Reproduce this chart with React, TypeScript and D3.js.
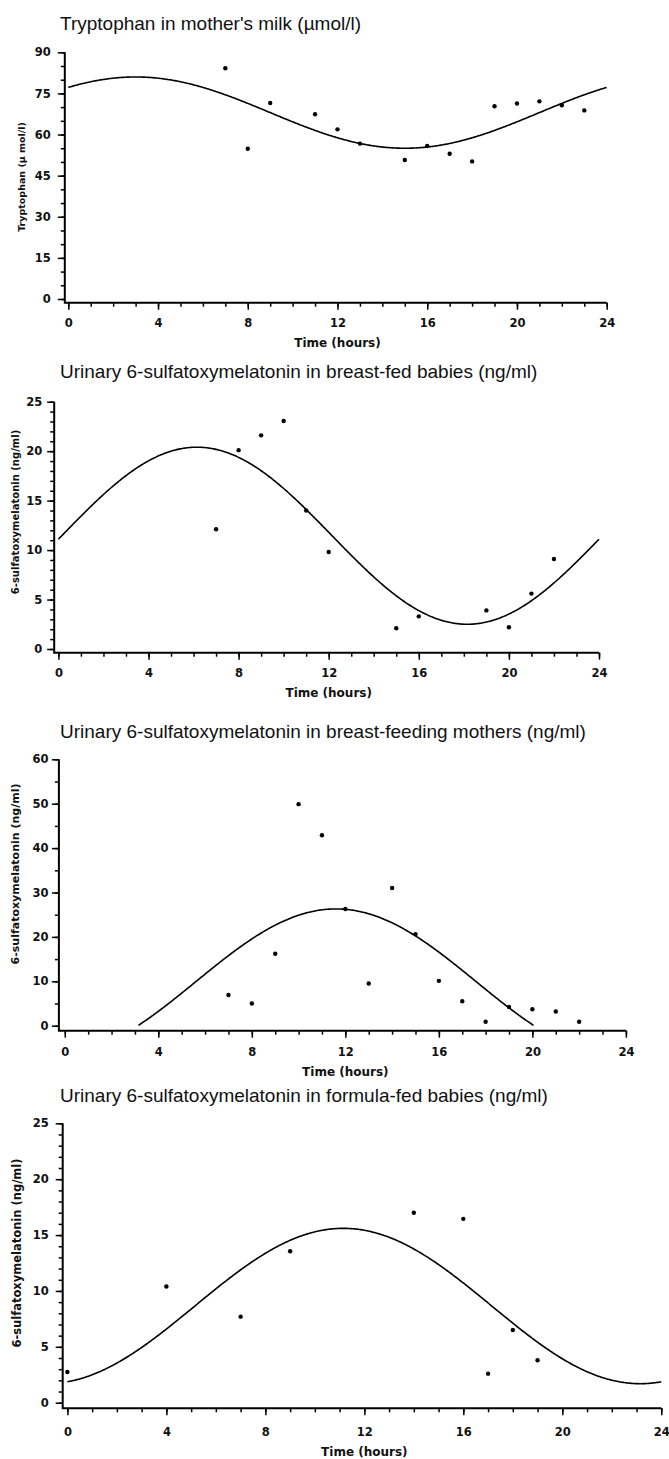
import React, { useEffect, useRef } from 'react';
import * as d3 from 'd3';

// Tryptophan in mother's milk (µmol/l)
const milkHours = [7, 8, 9, 11, 12, 13, 15, 16, 17, 18, 19, 20, 21, 22, 23];
const milkTryptophan = [84.2, 54.8, 71.5, 67.4, 61.9, 56.7, 50.7, 55.8, 53.0, 50.2, 70.3, 71.3, 72.1, 70.7, 68.8];
const milkFit = [68.0, 13.0, 3.0]; // mesor, amplitude, acrophase (h)
const milkTicks = [0, 15, 30, 45, 60, 75, 90];

// 6-sulfatoxymelatonin in breast-fed babies (ng/ml)
const bfBabyHours = [7, 8, 9, 10, 11, 12, 15, 16, 19, 20, 21, 22];
const bfBabyMelatonin = [12.1, 20.1, 21.6, 23.05, 14.0, 9.8, 2.1, 3.3, 3.9, 2.2, 5.6, 9.1];
const bfBabyFit = [11.45, 8.95, 6.15];
const bfBabyTicks = [0, 5, 10, 15, 20, 25];

// 6-sulfatoxymelatonin in breast-feeding mothers (ng/ml)
const motherHours = [7, 8, 9, 10, 11, 12, 13, 14, 15, 16, 17, 18, 19, 20, 21, 22];
const motherMelatonin = [6.9, 5.0, 16.2, 49.9, 42.9, 26.3, 9.5, 31.0, 20.6, 10.1, 5.5, 0.9, 4.2, 3.7, 3.2, 0.9];
const motherFit = [9.9, 16.4, 11.6];
const motherTicks = [0, 10, 20, 30, 40, 50, 60];

// 6-sulfatoxymelatonin in formula-fed babies (ng/ml)
const ffBabyHours = [0, 4, 7, 9, 14, 16, 17, 18, 19];
const ffBabyMelatonin = [2.75, 10.4, 7.7, 13.55, 17.0, 16.45, 2.6, 6.5, 3.8];
const ffBabyFit = [8.65, 6.95, 11.15];
const ffBabyTicks = [0, 5, 10, 15, 20, 25];

const hourTicks = [0, 4, 8, 12, 16, 20, 24];

const W = 669;
const H = 1459;
const boldFont = "'DejaVu Sans', sans-serif";
const titleFont = "'Liberation Sans', Arial, sans-serif";

const panels = [
  {
    title: "Tryptophan in mother's milk (µmol/l)", yLabel: 'Tryptophan (µ mol/l)',
    hours: milkHours, values: milkTryptophan, fit: milkFit, yTicks: milkTicks, yMinor: 5, clip: false,
    L: { titleY: 23, x0: 68.3, x1: 606.7, axisX: 64.8, yTop: 52.3, yBottom: 299, axisY: 302.7,
      tickY: 322.5, labelY: 342.7, yLabelX: 22, yLabelY: 177, yLabelSize: 9.5, yPad: 7 }
  },
  {
    title: 'Urinary 6-sulfatoxymelatonin in breast-fed babies (ng/ml)', yLabel: '6-sulfatoxymelatonin (ng/ml)',
    hours: bfBabyHours, values: bfBabyMelatonin, fit: bfBabyFit, yTicks: bfBabyTicks, yMinor: 1, clip: false,
    L: { titleY: 371.7, x0: 58.4, x1: 599, axisX: 54.2, yTop: 401.7, yBottom: 649, axisY: 652.7,
      tickY: 673.3, labelY: 692.3, yLabelX: 15, yLabelY: 512, yLabelSize: 10, yPad: 5 }
  },
  {
    title: 'Urinary 6-sulfatoxymelatonin in breast-feeding mothers (ng/ml)', yLabel: '6-sulfatoxymelatonin (ng/ml)',
    hours: motherHours, values: motherMelatonin, fit: motherFit, yTicks: motherTicks, yMinor: 5, clip: true,
    L: { titleY: 731.7, x0: 64.8, x1: 625.9, axisX: 58.9, yTop: 759.3, yBottom: 1025.7, axisY: 1030.7,
      tickY: 1051.7, labelY: 1071.7, yLabelX: 15, yLabelY: 874, yLabelSize: 11, yPad: 3.5 }
  },
  {
    title: 'Urinary 6-sulfatoxymelatonin in formula-fed babies (ng/ml)', yLabel: '6-sulfatoxymelatonin (ng/ml)',
    hours: ffBabyHours, values: ffBabyMelatonin, fit: ffBabyFit, yTicks: ffBabyTicks, yMinor: 1, clip: false,
    L: { titleY: 1095, x0: 67.4, x1: 661.3, axisX: 62.7, yTop: 1123.3, yBottom: 1402.7, axisY: 1408.3,
      tickY: 1431.7, labelY: 1451.7, yLabelX: 17, yLabelY: 1253, yLabelSize: 11.5, yPad: 7 }
  }
];

const App = () => {
  const ref = useRef<SVGSVGElement>(null);

  useEffect(() => {
    const svg = d3.select(ref.current);
    svg.selectAll('*').remove();

    panels.forEach(p => {
      const L = p.L;
      const yMax = p.yTicks[p.yTicks.length - 1];
      const x = d3.scaleLinear().domain([0, 24]).range([L.x0, L.x1]);
      const y = d3.scaleLinear().domain([0, yMax]).range([L.yBottom, L.yTop]);
      const g = svg.append('g');

      // title
      g.append('text')
        .attr('x', 60).attr('y', L.titleY).attr('dy', '0.35em')
        .style('font-family', titleFont).style('font-size', '19px').attr('fill', '#111')
        .text(p.title);

      // y axis: minor then major ticks
      const yAxisG = g.append('g').attr('transform', `translate(${L.axisX},0)`);
      yAxisG.call(d3.axisLeft(y).tickValues(d3.range(0, yMax + 0.001, p.yMinor)).tickSize(4).tickFormat(() => ''));
      yAxisG.call(g2 => g2.select('.domain').remove());
      const yMajor = g.append('g').attr('transform', `translate(${L.axisX},0)`)
        .call(d3.axisLeft(y).tickValues(p.yTicks).tickSize(7).tickPadding(L.yPad).tickFormat(d3.format('d')));
      yMajor.select('.domain').remove();
      g.selectAll('.tick line').attr('stroke', '#000').attr('stroke-width', 1.5);
      yMajor.selectAll('text')
        .style('font-family', boldFont).style('font-weight', 'bold').style('font-size', '11.5px').attr('fill', '#111');

      // x axis
      const xMinorG = g.append('g').attr('transform', `translate(0,${L.axisY})`)
        .call(d3.axisBottom(x).tickValues(d3.range(0, 25, 1)).tickSize(4).tickFormat(() => ''));
      xMinorG.select('.domain').remove();
      const xMajor = g.append('g').attr('transform', `translate(0,${L.axisY})`)
        .call(d3.axisBottom(x).tickValues(hourTicks).tickSize(7).tickFormat(d3.format('d')));
      xMajor.select('.domain').remove();
      g.selectAll('.tick line').attr('stroke', '#000').attr('stroke-width', 1.5);
      xMajor.selectAll('text')
        .attr('y', L.tickY - L.axisY).attr('dy', '0.35em')
        .style('font-family', boldFont).style('font-weight', 'bold').style('font-size', '11.5px').attr('fill', '#111');

      // axis lines (offset L-frame)
      g.append('path')
        .attr('d', `M${L.axisX},${L.yTop}V${L.axisY}H${L.x1}`)
        .attr('fill', 'none').attr('stroke', '#000').attr('stroke-width', 2);

      // axis titles
      g.append('text')
        .attr('x', (L.x0 + L.x1) / 2).attr('y', L.labelY).attr('dy', '0.35em').attr('text-anchor', 'middle')
        .style('font-family', boldFont).style('font-weight', 'bold').style('font-size', '12px').attr('fill', '#111')
        .text('Time (hours)');
      g.append('text')
        .attr('transform', `translate(${L.yLabelX},${L.yLabelY}) rotate(-90)`)
        .attr('dy', '0.35em').attr('text-anchor', 'middle')
        .style('font-family', boldFont).style('font-weight', 'bold').style('font-size', `${L.yLabelSize}px`).attr('fill', '#111')
        .text(p.yLabel);

      // cosinor fit
      const [mesor, amp, acro] = p.fit;
      const cos = (t: number) => mesor + amp * Math.cos(2 * Math.PI * (t - acro) / 24);
      const ts = d3.range(0, 24.0001, 0.05);
      const line = d3.line<number>()
        .defined(t => !p.clip || cos(t) >= 0)
        .x(t => x(t))
        .y(t => y(Math.max(0, cos(t))));
      g.append('path')
        .attr('d', line(ts))
        .attr('fill', 'none').attr('stroke', '#000').attr('stroke-width', 1.6);

      // observations
      g.selectAll('.dot')
        .data(p.hours)
        .enter().append('circle')
        .attr('cx', d => x(d))
        .attr('cy', (d, i) => y(p.values[i]))
        .attr('r', 2.2)
        .attr('fill', '#000');
    });
  }, []);

  return (
    <svg ref={ref} width={W} height={H} style={{ position: 'absolute', left: 0, top: 0, background: '#fff' }} />
  );
};

export default App;
